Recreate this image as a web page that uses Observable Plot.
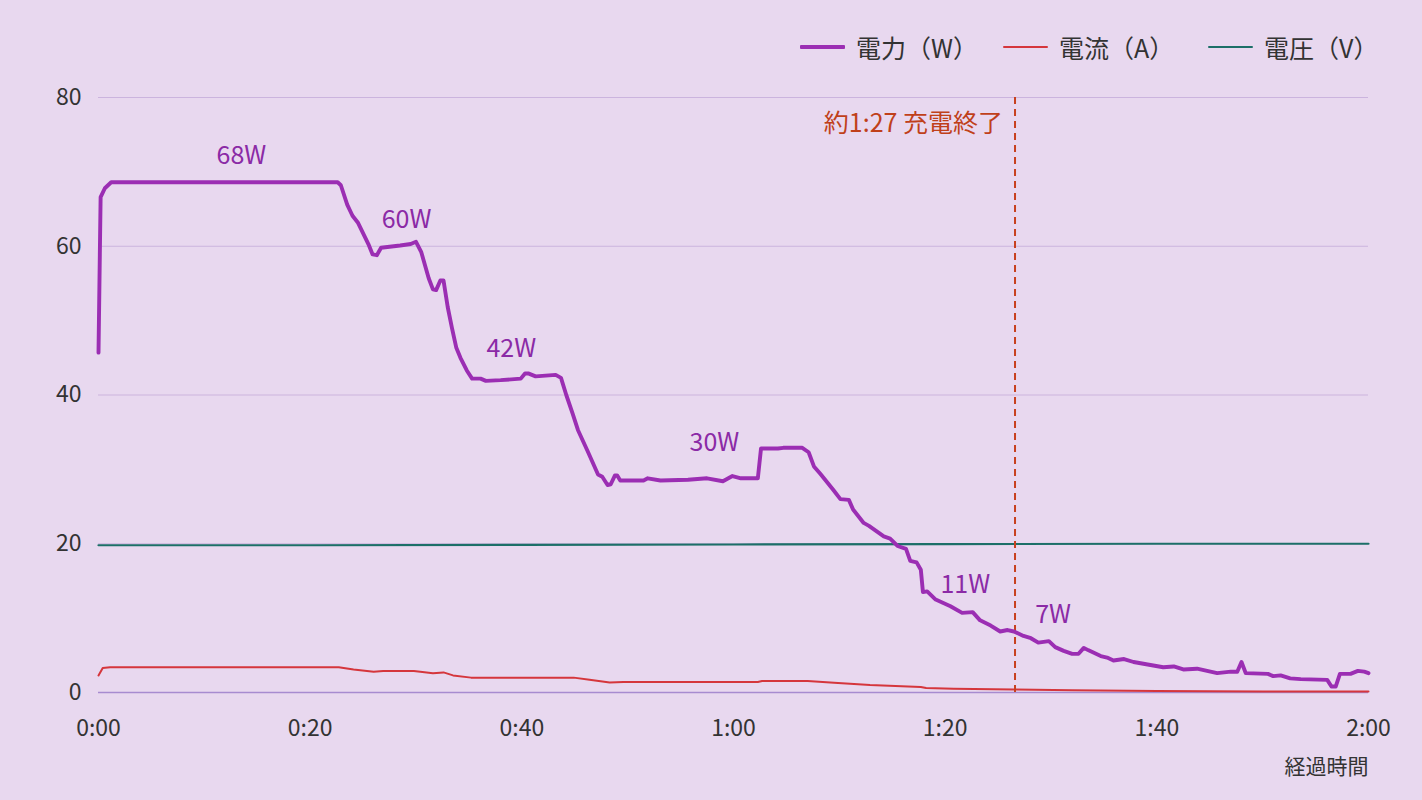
<!DOCTYPE html>
<html><head><meta charset="utf-8">
<script src="https://cdn.jsdelivr.net/npm/d3@7"></script>
<script src="https://cdn.jsdelivr.net/npm/@observablehq/plot@0.6"></script>
<style>
html,body{margin:0;padding:0;background:#e8d8ef;}
body{font-family:"Noto Sans CJK JP","Noto Sans",sans-serif;}
#wrap{width:1422px;height:800px;position:relative;overflow:hidden;}
#legend{height:80px;position:relative;color:#333;font-size:25px;line-height:32px;}
.item{position:absolute;top:31px;display:flex;align-items:center;white-space:nowrap;}
.sw{width:45px;margin-right:11px;border-radius:1px;}
svg{display:block;}
</style></head>
<body><div id="wrap"><div id="legend"></div><div id="chart"></div></div>
<script>
// 経過時間（分）と電力（W）
const powerT = [0,0.2,0.6,1.2,10,22.6,22.9,23.5,24.0,24.5,25.5,25.9,26.3,26.7,28.5,29.5,30.0,30.5,31.2,31.6,31.9,32.3,32.6,33.0,33.4,33.8,34.2,34.8,35.3,36.1,36.6,38.0,39.9,40.3,40.6,41.3,43.2,43.7,44.2,44.8,45.3,46.2,47.2,47.6,48.1,48.4,48.8,49.0,49.3,51.5,51.9,53.1,55.7,57.5,59.0,59.9,60.7,62.3,62.6,64.2,64.7,66.5,67.1,67.6,68.2,69.4,70.1,70.9,71.3,72.3,72.8,73.6,74.2,74.8,75.5,76.3,76.7,77.3,77.7,77.9,78.3,79.1,80.5,81.6,82.6,83.3,84.3,85.2,85.9,86.5,87.4,88.1,88.8,89.8,90.4,91.2,92.0,92.6,93.1,93.5,94.7,95.3,95.9,96.9,97.8,99.4,100.6,101.6,102.5,103.8,105.7,107.0,107.6,108.0,108.4,110.5,111.0,111.7,112.6,113.6,116.1,116.5,116.9,117.3,118.3,119.0,119.6,120.0];
const powerW = [45.7,66.6,67.8,68.6,68.6,68.6,68.2,65.6,64.1,63.2,60.3,58.9,58.8,59.8,60.1,60.3,60.6,59.2,55.7,54.2,54.1,55.4,55.4,51.8,49.0,46.4,45.0,43.3,42.2,42.2,41.9,42.0,42.2,42.9,42.9,42.5,42.7,42.3,40.0,37.5,35.3,32.5,29.3,29.0,27.9,28.0,29.2,29.2,28.5,28.5,28.8,28.5,28.6,28.8,28.4,29.1,28.8,28.8,32.8,32.8,32.9,32.9,32.3,30.4,29.4,27.3,26.0,25.9,24.6,22.8,22.4,21.6,21.0,20.7,19.7,19.3,17.7,17.5,16.5,13.5,13.6,12.5,11.6,10.7,10.8,9.7,9.0,8.2,8.4,8.2,7.6,7.3,6.7,6.9,6.1,5.6,5.2,5.2,6.0,5.7,4.9,4.7,4.3,4.5,4.1,3.7,3.4,3.5,3.1,3.2,2.6,2.8,2.8,4.1,2.6,2.5,2.2,2.3,1.9,1.8,1.7,0.8,0.8,2.5,2.5,2.9,2.8,2.6];
// 電流（A）
const currentT = [0,0.4,1.1,22.7,24.1,26.0,26.9,29.8,31.6,32.6,33.5,35.2,41.8,44.9,46.4,48.3,49.6,62.3,62.7,67.0,69.5,72.9,77.7,78.2,80.8,86.5,92,100,110,120];
const currentA = [2.3,3.3,3.4,3.4,3.1,2.8,2.9,2.9,2.6,2.7,2.3,2.0,2.0,2.0,1.7,1.35,1.4,1.4,1.55,1.55,1.3,1.0,0.75,0.6,0.5,0.4,0.3,0.2,0.15,0.15];
// 電圧（V）
const voltageT = [0,20,40,60,80,100,120];
const voltageV = [19.8,19.8,19.85,19.9,19.95,20.0,20.0];
// 注記
const peakLabels = ["68W","60W","42W","30W","11W","7W"];
const peakT = [13.5,29.1,39.0,58.2,81.9,90.2];
const peakV = [72.2,63.5,46.2,33.5,14.4,10.4];
const chargeEndT = 86.6;
const chargeEndText = "約1:27 充電終了";
const chargeEndV = 76.5;
const xTicks = [0,20,40,60,80,100,120];
const yTicks = [0,20,40,60,80];
const seriesNames = ["電力（W）","電流（A）","電圧（V）"];
const seriesColors = ["#9b2eb3","#d5363c","#1c6f68"];
const xLabel = "経過時間";

const power = powerT.map((t,i)=>({t, v:powerW[i]}));
const current = currentT.map((t,i)=>({t, v:currentA[i]}));
const voltage = voltageT.map((t,i)=>({t, v:voltageV[i]}));
const peaks = peakLabels.map((s,i)=>({t:peakT[i], v:peakV[i], s}));

const legend = document.getElementById("legend");
const swH = [4,2.5,2.5];
const legendLeft = [800,1003,1208];
seriesNames.forEach((n,i)=>{
  const it = document.createElement("div"); it.className="item";
  it.style.left = legendLeft[i]+"px";
  const sw = document.createElement("span"); sw.className="sw";
  sw.style.height = swH[i]+"px"; sw.style.background = seriesColors[i];
  const tx = document.createElement("span"); tx.textContent = n;
  it.appendChild(sw); it.appendChild(tx); legend.appendChild(it);
});

const font = '"Noto Sans CJK JP","Noto Sans",sans-serif';
const chart = Plot.plot({
  width:1422, height:720,
  marginLeft:98, marginRight:54, marginTop:17, marginBottom:108,
  style:{background:"transparent", fontFamily:font, fontSize:"23px", color:"#333", overflow:"visible"},
  x:{domain:[0,120], ticks:xTicks, tickSize:0, tickPadding:27, label:null,
     tickFormat:d=>`${Math.floor(d/60)}:${String(d%60).padStart(2,"0")}`},
  y:{domain:[0,80], ticks:yTicks, tickSize:0, tickPadding:17, label:null},
  marks:[
    Plot.ruleY(yTicks.filter(d=>d>0), {stroke:"#cbb4de", strokeWidth:1.2}),
    Plot.ruleY([0], {stroke:"#a78bd0", strokeWidth:1.6}),
    Plot.line(voltage, {x:"t", y:"v", stroke:seriesColors[2], strokeWidth:2.2}),
    Plot.line(current, {x:"t", y:"v", stroke:seriesColors[1], strokeWidth:2}),
    Plot.ruleX([chargeEndT], {y1:0, y2:80, stroke:"#c8401e", strokeWidth:2, strokeDasharray:"7,5"}),
    Plot.line(power, {x:"t", y:"v", stroke:seriesColors[0], strokeWidth:3.9, strokeLinejoin:"round", strokeLinecap:"round"}),
    Plot.text(peaks, {x:"t", y:"v", text:"s", fill:"#8b2aa6", fontSize:25, fontFamily:font}),
    Plot.text([chargeEndText], {x:()=>chargeEndT, y:()=>chargeEndV, text:d=>d, textAnchor:"end", dx:-12, fill:"#c0401a", fontSize:25, fontFamily:font}),
    Plot.text([xLabel], {frameAnchor:"bottom-right", lineAnchor:"middle", text:d=>d, textAnchor:"end", dy:75, fill:"#333", fontSize:21, fontFamily:font})
  ]
});
document.getElementById("chart").appendChild(chart);
</script></body></html>
